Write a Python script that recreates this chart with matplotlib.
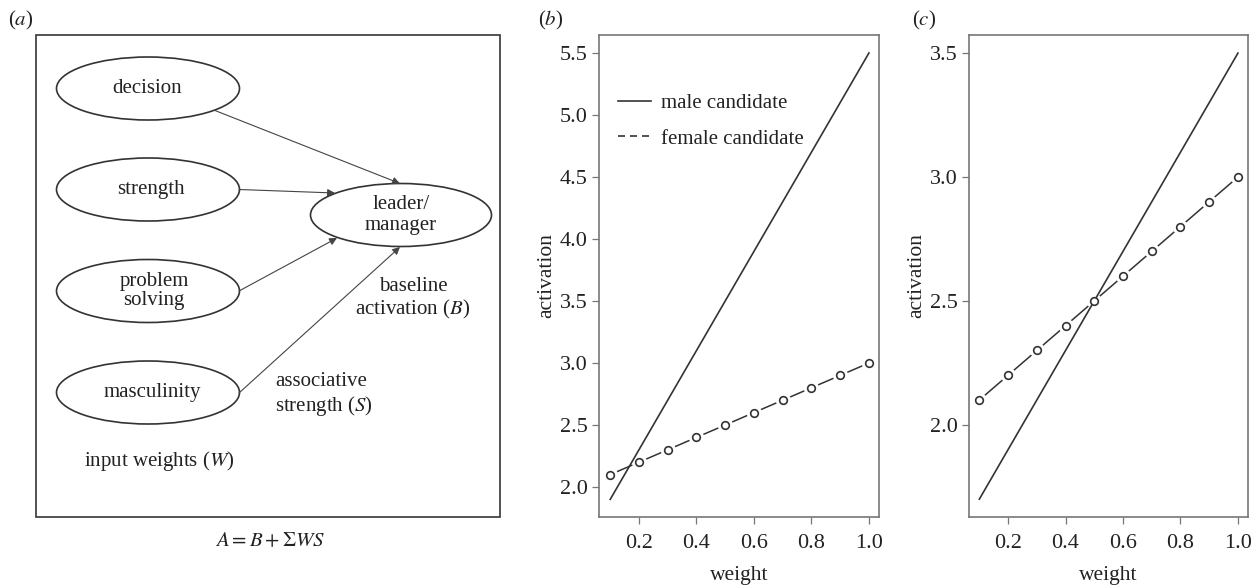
import matplotlib
matplotlib.use("Agg")
import matplotlib.pyplot as plt
from matplotlib.patches import Ellipse, Rectangle, FancyArrowPatch
from matplotlib.lines import Line2D

plt.rcParams['font.family'] = ['Liberation Serif', 'DejaVu Serif']
plt.rcParams['mathtext.fontset'] = 'stix'

# ---------------- data ----------------
weights = [0.1, 0.2, 0.3, 0.4, 0.5, 0.6, 0.7, 0.8, 0.9, 1.0]
male_b = [1.9, 2.3, 2.7, 3.1, 3.5, 3.9, 4.3, 4.7, 5.1, 5.5]
female_b = [2.1, 2.2, 2.3, 2.4, 2.5, 2.6, 2.7, 2.8, 2.9, 3.0]
male_c = [1.7, 1.9, 2.1, 2.3, 2.5, 2.7, 2.9, 3.1, 3.3, 3.5]
female_c = [2.1, 2.2, 2.3, 2.4, 2.5, 2.6, 2.7, 2.8, 2.9, 3.0]
xticks = [0.2, 0.4, 0.6, 0.8, 1.0]
yticks_b = [2.0, 2.5, 3.0, 3.5, 4.0, 4.5, 5.0, 5.5]
yticks_c = [2.0, 2.5, 3.0, 3.5]
input_nodes = ["decision", "strength", "problem\nsolving", "masculinity"]
legend_labels = ["male candidate", "female candidate"]

W, H = 1259, 587
TXT = '#222222'
LINE = '#333333'
fig = plt.figure(figsize=(W / 100, H / 100), dpi=100)

# ---------------- panel (a): diagram in pixel coordinates ----------------
axa = fig.add_axes([0, 0, 1, 1])
axa.set_xlim(0, W)
axa.set_ylim(H, 0)
axa.axis('off')
axa.add_patch(Rectangle((36, 35), 464, 482, fill=False, ec='#444444', lw=1.3))

node_y = [88.5, 189.5, 291, 392.5]
text_x = [147, 151, 154, 152]
for name, y, tx in zip(input_nodes, node_y, text_x):
    axa.add_patch(Ellipse((148, y), 183, 63, fill=False, ec=LINE, lw=1.2))
    axa.text(tx, y, name, ha='center', va='center', fontsize=15,
             color=TXT, linespacing=1.05)
axa.add_patch(Ellipse((401, 215), 181, 63, fill=False, ec=LINE, lw=1.2))
axa.text(401, 215, "leader/\nmanager", ha='center', va='center', fontsize=15,
         color=TXT, linespacing=1.1)

arrows = [((215, 110.5), (400, 183.5)), ((239, 189.5), (335, 193)),
          ((239, 291), (337, 238)), ((239, 393), (400, 247))]
for (x0, y0), (x1, y1) in arrows:
    axa.add_patch(FancyArrowPatch((x0, y0), (x1, y1), arrowstyle='-|>',
                                  mutation_scale=11, color='#444444', lw=0.8,
                                  shrinkA=0, shrinkB=0))

axa.text(413, 299, "baseline\nactivation ($B$)", ha='center', va='center',
         fontsize=15, color=TXT, linespacing=1.15)
axa.text(275, 395, "associative\nstrength ($S$)", ha='left', va='center',
         fontsize=15, color=TXT, linespacing=1.15)
axa.text(159, 461, "input weights ($W$)", ha='center', va='center',
         fontsize=15, color=TXT)
axa.text(270, 542, r"$A = B + \Sigma WS$", ha='center', va='center',
         fontsize=15, color=TXT)
axa.text(8, 20, "($a$)", ha='left', va='center', fontsize=15, color=TXT)
axa.text(538, 20, "($b$)", ha='left', va='center', fontsize=15, color=TXT)
axa.text(912, 20, "($c$)", ha='left', va='center', fontsize=15, color=TXT)


def style(ax, width_px):
    for s in ax.spines.values():
        s.set_color('#777777')
        s.set_linewidth(1.2)
    ax.tick_params(direction='out', length=5, width=0.9, color='#777777',
                   labelsize=16, labelcolor=TXT, pad=3)
    ax.tick_params(axis='x', pad=7)
    ax.set_xlabel("weight", fontsize=15.5, color=TXT)
    ax.set_ylabel("activation", fontsize=15.5, color=TXT)
    ax.yaxis.set_label_coords(-43 / width_px, 0.5)
    ax.xaxis.set_label_coords(0.5, -0.102)


def pos(l, r, t, b):
    return [l / W, (H - b) / H, (r - l) / W, (b - t) / H]


def female_line(ax, xs, ys):
    ax.plot(xs, ys, '-', color=LINE, lw=1.1, zorder=2)
    ax.plot(xs, ys, 'o', ms=11, mfc='white', mec='none', zorder=3)


def female_markers(ax, xs, ys):
    ax.plot(xs, ys, 'o', ms=5.5, mfc='white', mec=LINE, mew=1.2, zorder=5)


# ---------------- panel (b) ----------------
axb = fig.add_axes(pos(599, 879, 35, 517))
female_line(axb, weights, female_b)
axb.plot(weights, male_b, '-', color=LINE, lw=1.2, zorder=4)
female_markers(axb, weights, female_b)
axb.set_xlim(0.061, 1.035)
axb.set_ylim(1.758, 5.645)
axb.set_xticks(xticks)
axb.set_xticklabels([f"{t:.1f}" for t in xticks])
axb.set_yticks(yticks_b)
axb.set_yticklabels([f"{t:.1f}" for t in yticks_b])
style(axb, 280)
handles = [Line2D([], [], color=LINE, lw=1.2),
           Line2D([], [], color=LINE, lw=1.2, ls=(0, (4.2, 3.0)))]
axb.legend(handles, legend_labels, loc='upper left',
           bbox_to_anchor=(0.068, 0.878), frameon=False, fontsize=15,
           handlelength=1.6, handletextpad=0.47, labelspacing=0.75,
           borderpad=0, borderaxespad=0, labelcolor=TXT)

# ---------------- panel (c) ----------------
axc = fig.add_axes(pos(969, 1248, 35, 517))
female_line(axc, weights, female_c)
axc.plot(weights, male_c, '-', color=LINE, lw=1.2, zorder=4)
female_markers(axc, weights, female_c)
axc.set_xlim(0.064, 1.035)
axc.set_ylim(1.628, 3.573)
axc.set_xticks(xticks)
axc.set_xticklabels([f"{t:.1f}" for t in xticks])
axc.set_yticks(yticks_c)
axc.set_yticklabels([f"{t:.1f}" for t in yticks_c])
style(axc, 279)

fig.savefig("out.png", dpi=100)
